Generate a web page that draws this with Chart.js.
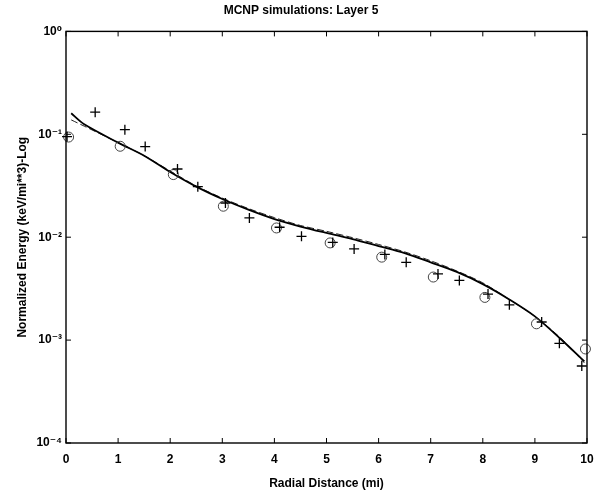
<!DOCTYPE html>
<html>
<head>
<meta charset="utf-8">
<script src="https://cdn.jsdelivr.net/npm/chart.js@4/dist/chart.umd.min.js"></script>
<style>
  html, body { margin: 0; padding: 0; background: #fff; }
  #c { display: block; }
</style>
</head>
<body>
<canvas id="c" width="610" height="491"></canvas>
<script>
// data
const circleX = [0.05, 1.04, 2.06, 3.02, 4.04, 5.07, 6.06, 7.05, 8.04, 9.03, 9.97];
const circleY = [0.094, 0.0765, 0.0406, 0.020, 0.0123, 0.0088, 0.0064, 0.0041, 0.0026, 0.00144, 0.00082];

const plusX = [0.02, 0.56, 1.13, 1.52, 2.14, 2.53, 3.06, 3.52, 4.1, 4.52, 5.12, 5.53, 6.12, 6.53, 7.14, 7.55, 8.1, 8.51, 9.13, 9.47, 9.9];
const plusY = [0.095, 0.164, 0.111, 0.076, 0.046, 0.031, 0.0215, 0.0154, 0.0125, 0.0102, 0.0089, 0.0077, 0.0068, 0.0057, 0.0044, 0.0038, 0.0028, 0.0022, 0.0015, 0.00093, 0.00056];

const lineX = [0.1, 0.35, 1, 1.5, 2, 2.5, 3, 3.5, 4, 4.5, 5, 5.5, 6, 6.5, 7, 7.5, 8, 8.5, 9, 9.5, 9.95];
const lineA = [0.16, 0.125, 0.083, 0.062, 0.043, 0.031, 0.0235, 0.0185, 0.015, 0.0127, 0.011, 0.0096, 0.0082, 0.0070, 0.0057, 0.0046, 0.0035, 0.0025, 0.0017, 0.00102, 0.00062];
const lineB = [0.138, 0.12, 0.083, 0.062, 0.044, 0.0315, 0.024, 0.019, 0.0155, 0.013, 0.0114, 0.0099, 0.0085, 0.0072, 0.0059, 0.0047, 0.0036, 0.0025, 0.0017, 0.00104, 0.0006];

const xTicks = [0, 1, 2, 3, 4, 5, 6, 7, 8, 9, 10];
const yTicks = [1e-4, 1e-3, 1e-2, 1e-1, 1];
const yTickLabels = ["10\u207B\u2074", "10\u207B\u00B3", "10\u207B\u00B2", "10\u207B\u00B9", "10\u2070"];

function pts(xs, ys) {
  return xs.map((x, i) => ({ x: x, y: ys[i] }));
}

const FONT = "'Liberation Sans', Arial, 'DejaVu Sans', sans-serif";

// box round the plot with inward ticks, matlab style
const boxPlugin = {
  id: "box",
  afterDraw(chart) {
    const ctx = chart.ctx;
    const a = chart.chartArea;
    const xs = chart.scales.x, ys = chart.scales.y;
    ctx.save();
    ctx.strokeStyle = "#000";
    ctx.lineWidth = 1.4;
    ctx.strokeRect(a.left, a.top, a.right - a.left, a.bottom - a.top);
    ctx.lineWidth = 1;
    ctx.beginPath();
    xTicks.forEach((v) => {
      const px = xs.getPixelForValue(v);
      ctx.moveTo(px, a.bottom); ctx.lineTo(px, a.bottom - 5);
      ctx.moveTo(px, a.top); ctx.lineTo(px, a.top + 5);
    });
    yTicks.forEach((v) => {
      const py = ys.getPixelForValue(v);
      ctx.moveTo(a.left, py); ctx.lineTo(a.left + 5, py);
      ctx.moveTo(a.right, py); ctx.lineTo(a.right - 5, py);
    });
    ctx.stroke();
    ctx.restore();
  }
};

const ctx = document.getElementById("c").getContext("2d");
const chart = new Chart(ctx, {
  type: "scatter",
  data: {
    datasets: [
      {
        label: "line a",
        data: pts(lineX, lineA),
        showLine: true,
        borderColor: "#000",
        borderWidth: 1.8,
        pointRadius: 0,
        tension: 0.3,
        order: 2
      },
      {
        label: "line b",
        data: pts(lineX, lineB),
        showLine: true,
        borderColor: "#222",
        borderWidth: 1,
        borderDash: [7, 3],
        pointRadius: 0,
        tension: 0.3,
        order: 3
      },
      {
        label: "circles",
        data: pts(circleX, circleY),
        pointStyle: "circle",
        pointRadius: 5,
        borderColor: "#444",
        borderWidth: 1,
        backgroundColor: "rgba(0,0,0,0)",
        clip: false,
        order: 1
      },
      {
        label: "plus",
        data: pts(plusX, plusY),
        pointStyle: "cross",
        pointRadius: 5,
        borderColor: "#000",
        borderWidth: 1.3,
        clip: false,
        order: 0
      }
    ]
  },
  options: {
    responsive: false,
    animation: false,
    layout: { padding: { left: 15, right: 23, top: 0, bottom: 0 } },
    plugins: {
      legend: { display: false },
      tooltip: { enabled: false },
      title: {
        display: true,
        text: "MCNP simulations: Layer 5",
        color: "#000",
        font: { family: FONT, size: 12, weight: "bold" },
        padding: { top: 3, bottom: 14 }
      }
    },
    scales: {
      x: {
        type: "linear",
        min: 0,
        max: 10,
        afterBuildTicks(scale) { scale.ticks = xTicks.map((v) => ({ value: v })); },
        afterFit(scale) { scale.height = 48; },
        grid: { display: false, drawTicks: false },
        border: { display: false },
        ticks: {
          color: "#000",
          padding: 9,
          maxRotation: 0,
          font: { family: FONT, size: 12, weight: "bold" }
        },
        title: {
          display: true,
          text: "Radial Distance (mi)",
          color: "#000",
          padding: { top: 4, bottom: 0 },
          font: { family: FONT, size: 12, weight: "bold" }
        }
      },
      y: {
        type: "logarithmic",
        min: 1e-4,
        max: 1,
        afterBuildTicks(scale) { scale.ticks = yTicks.map((v) => ({ value: v })); },
        afterFit(scale) { scale.width = 51; },
        grid: { display: false, drawTicks: false },
        border: { display: false },
        ticks: {
          color: "#000",
          padding: 4,
          font: { family: FONT, size: 12, weight: "bold" },
          callback(v) {
            const i = yTicks.findIndex((t) => Math.abs(Math.log10(t) - Math.log10(v)) < 1e-6);
            return i >= 0 ? yTickLabels[i] : "";
          }
        },
        title: {
          display: true,
          text: "Normalized Energy (keV/mi**3)-Log",
          color: "#000",
          padding: { top: 0, bottom: 6 },
          font: { family: FONT, size: 12, weight: "bold" }
        }
      }
    }
  },
  plugins: [boxPlugin]
});
</script>
</body>
</html>
